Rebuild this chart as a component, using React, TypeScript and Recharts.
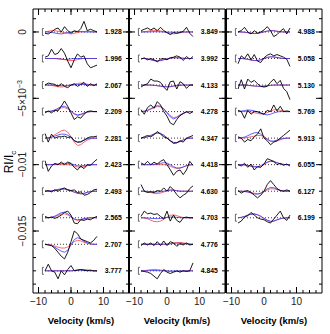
import React from "react";
import { LineChart, Line, XAxis, YAxis, ReferenceDot } from "recharts";

const FONT = "'Liberation Sans', Arial, Helvetica, sans-serif";

// velocity grid (km/s)
const velocity = [-8, -7, -6, -5, -4, -3, -2, -1, 0, 1, 2, 3, 4, 5, 6, 7, 8];

// profiles are stacked downwards by this much; values below are in units of 1e-4
const STEP = 0.002;
const UNIT = 1e-4;

const X_DOMAIN = [-11.7, 17.85];
const Y_DOMAIN = [-0.01967, 0.00173];
const X_MAJOR = [-10, 0, 10];
const X_TICKS = [-10, -8, -6, -4, -2, 0, 2, 4, 6, 8, 10, 12, 14, 16];
const Y_MAJOR = [0, -0.005, -0.01, -0.015];
const Y_TICKS = [
  0.001, 0, -0.001, -0.002, -0.003, -0.004, -0.005, -0.006, -0.007, -0.008, -0.009, -0.01,
  -0.011, -0.012, -0.013, -0.014, -0.015, -0.016, -0.017, -0.018, -0.019,
];
const Y_TEXT = ["0", "\u22125\u00d710", "\u22120.01", "\u22120.015"];
const Y_SUP = ["", "\u22123", "", ""];

const LABEL_V = 10.4;
const BRACKET_V = -8.8;

// ---- panel 1
const p1Labels = ["1.928", "1.996", "2.067", "2.209", "2.281", "2.423", "2.493", "2.565", "2.707", "3.777"];
const p1Obs = [
  [-1, -1.5, 0, 2, 3, 0, 4, 1, -1, 1, 0, 2.5, 8, 1, 2, 1, 0],
  [1, 2, 7, 3, 4, 7.5, 4, -2, -7, -1, 3.5, 1, 2, -4, -7, -6, -5],
  [0, 1.5, 1, 0.5, -1, 1, -1, -2, 0, 1, -1, 0.5, 2, -1, 1, -0.5, 1],
  [-1, 0.5, -1, 1, 0.5, 4, 8, 4, -1, -6, -4, -5, -2, 0, 0.5, 0, 0],
  [3.5, -3, 3, 0, 1, 1, 1.5, 0.5, 1, -2, -3, -3, -1.5, 0, 1, 1, 1.5],
  [3, -5, -1, 1, 0, 2, 0, 2, 1, -2, -4, -1, -3, 0, -0.5, 2, 4],
  [0, 0.5, -0.5, 1, 0, 1.5, 2.5, 1, 0.5, 1, -1, -0.5, -3, -2.5, -1, 1, 1.5],
  [1, 0, 0.5, -0.5, 0.5, 2, 4, 5, 2, -4, -4.5, -1.5, -2, -1, -1.5, 0, 1],
  [0, -0.5, -1, -3, -6, -9, -11, -6, 2, 10, 8, 4, 3, 2, 1, 3, 6],
  [0, 5, 0, -1, -6, 0, -3, 1, 4, 0, 0.5, 1, 0.5, 0, 0.5, 0, 0],
];
const p1Red = [
  [0, 0.5, 1, 1, 0.5, 0, -0.5, -1, -1.5, -1, -0.5, 0, 0.3, 0.5, 0.3, 0, 0],
  [0, 0, 0, 0, 0, -0.3, -0.8, -1.3, -1.6, -1.4, -0.8, -0.3, 0, 0, 0, 0, 0],
  [0, 0, -0.3, -0.8, -1.3, -1.5, -1.2, -0.6, 0, 0.6, 1.2, 1.5, 1.2, 0.6, 0.2, 0, 0],
  [0, 0, 0.3, 0.8, 1.8, 2.8, 3, 2, 0, -2, -3, -2.5, -1.5, -0.5, 0, 0, 0],
  [0, 0.3, 1, 2.5, 4, 5.5, 6, 4.5, 1, -3, -5.5, -5, -3, -1.5, -0.5, 0, 0],
  [0, 0, 0, 0, 0, 0, 0, 0, -0.3, -1, -1.8, -2, -1.5, -0.8, -0.2, 0, 0],
  [0, 0, 0.2, 0.6, 1.1, 1.5, 1.5, 1, 0.2, -0.6, -1.5, -2, -1.8, -1, -0.3, 0, 0],
  [0, 0, 0.3, 0.8, 1.8, 2.8, 3, 2.2, 0.5, -1.2, -2, -1.6, -1, -0.4, 0, 0, 0],
  [0, -0.2, -0.6, -1.3, -2.2, -2.8, -2.8, -2, 0, 2, 3, 2.5, 1.5, 0.7, 0.2, 0, 0],
  [0, 0, 0, 0, 0, 0, 0, 0, 0, 0.3, 0.8, 1, 1, 0.8, 0.4, 0, 0],
];
const p1Blue = [
  [0, 0, -0.3, -0.8, -1.2, -1.5, -1, -0.5, 0, 0.3, 0.5, 0.3, 0, 0, 0, 0, 0],
  [0, 0, 0, 0, -0.3, -0.6, -0.8, -0.6, -0.3, 0, 0, 0, 0, 0, 0, 0, 0],
  [0, 0, 0, -0.2, -0.4, -0.5, -0.4, -0.2, 0, 0.2, 0.4, 0.5, 0.4, 0.2, 0, 0, 0],
  [0, 0, 0.5, 1.2, 2.5, 3.8, 4, 2.8, 0.5, -1.5, -2.5, -2, -1, -0.3, 0, 0, 0],
  [0, 0.2, 0.6, 1.5, 2.3, 3, 3, 2.2, 0.5, -2, -3, -2.5, -1.5, -0.6, 0, 0, 0],
  [0, 0, 0, 0.2, 0.5, 0.8, 1, 1, 0.6, 0, -0.8, -1, -0.6, -0.2, 0, 0, 0],
  [0, 0, 0.3, 0.8, 1.4, 1.8, 1.8, 1.2, 0.3, -0.7, -1.6, -1.9, -1.5, -0.8, -0.2, 0, 0],
  [0, 0, 0.4, 1.2, 2.5, 3.8, 4.2, 3, 1, -0.8, -1.5, -1.2, -0.6, -0.2, 0, 0, 0],
  [0, -0.3, -1, -2.2, -3.8, -5.2, -6, -4.5, -0.5, 3.5, 5, 4, 2.3, 1, 0.3, 0, 0],
  [0, 0, 0, 0, 0, 0, 0, 0, 0, 0.2, 0.4, 0.5, 0.4, 0.2, 0, 0, 0],
];

// ---- panel 2
const p2Labels = ["3.849", "3.992", "4.133", "4.278", "4.347", "4.418", "4.630", "4.703", "4.776", "4.845"];
const p2Obs = [
  [1, 2, 3, 1.5, 3, 1, 3.5, 1, -0.5, -2, -0.5, -1, -0.5, 0.5, 3.5, -1, -3.5],
  [-0.5, 0.5, -1, 0, -1, -2.5, -0.5, 0, -1, 0.5, 1, 2, 1, -1.5, 1.5, -0.5, 1.5],
  [-1.5, 0, 1, 4.5, 3, 3, 2, -1.5, -4, 2.5, 3, -3, 2.5, 1, -2.5, 0, 0],
  [1.5, -2, 3, 5, 2.5, 7.5, 5, 0, -3.5, -8.5, -10, -6, -3, -1.5, 0, -1.5, 0],
  [0, 1, 2, 1, 2.5, 5, 3, 1, 0, -2, -4, -3.5, -2, -3, 0, 1, 2],
  [1.3, 0, 2.5, 0, 1.8, 0.5, 2.5, 3.8, 0, -3.8, -8, -5, -4, -7.5, -4, 2.5, -0.5],
  [5, 0, -1, -0.5, -1, 0.5, 0, 2.5, 0, 3.5, 1, -2.5, -5, -3, -1.5, 2, 4],
  [1, 5, 3, 3.5, 2.5, 3, 1, -1, 5, -2.5, 2, -2, -3.5, 0, 0.5, 0, 0],
  [-1, 1, -0.5, 1, -1, 2, -1, 2.5, -1, 2, 1, -1.5, 0.5, -0.5, 1, -0.5, 0],
  [0, -0.5, -1, -2, -4, -6, -2, 1, -1, -2, -1, 0, -1, 0, -0.5, 0, 6],
];
const p2Red = [
  [0, 0.2, 0.5, 1, 1.3, 1.2, 0.8, 0.2, -0.5, -1.2, -1.4, -1, -0.5, -0.2, 0, 0, 0],
  [0, 0, -0.3, -0.8, -1.3, -1.6, -1.4, -0.8, -0.2, 0.3, 0.6, 0.6, 0.4, 0.2, 0, 0, 0],
  [0, 0, 0, 0, -0.2, -0.5, -0.8, -1.1, -1.3, -1.2, -0.8, -0.4, -0.1, 0, 0, 0, 0],
  [0, 0.2, 0.8, 1.8, 3, 3.8, 3.5, 2, -0.5, -3, -4.5, -4, -2.5, -1.2, -0.4, 0, 0],
  [0, 0.3, 1, 2, 3, 3.8, 3.5, 2.2, 0.3, -1.8, -3.2, -3.5, -2.6, -1.4, -0.5, 0, 0],
  [0, 0, 0, 0, 0, 0, 0, 0, -0.3, -1.2, -2.2, -2.8, -2.6, -1.8, -0.8, -0.2, 0],
  [0, 0, -0.4, -1, -1.6, -1.8, -1.4, -0.6, 0.2, 0.8, 0.8, 0.4, 0, 0, 0, 0, 0],
  [0, -0.2, -0.8, -1.8, -2.8, -3, -2.5, -1.2, 0.5, 1.8, 2.2, 1.6, 0.8, 0.2, 0, 0, 0],
  [0, 0, 0, 0, 0, 0, 0, 0, 0.2, 0.6, 1.1, 1.4, 1.4, 1.1, 0.6, 0.2, 0],
  [0, 0.2, 0.5, 0.9, 1.1, 1, 0.6, 0.2, -0.2, -0.5, -0.6, -0.5, -0.3, -0.1, 0, 0, 0],
];
const p2Blue = [
  [0, 0, 0, 0.1, 0.2, 0.2, 0.1, 0, -0.1, -0.2, -0.2, -0.1, 0, 0, 0, 0, 0],
  [0, 0, -0.4, -1, -1.6, -1.9, -1.6, -1, -0.3, 0.3, 0.6, 0.6, 0.4, 0.2, 0, 0, 0],
  [0, 0, 0, 0, -0.2, -0.5, -0.9, -1.2, -1.4, -1.2, -0.8, -0.4, -0.1, 0, 0, 0, 0],
  [0, 0.3, 1, 2.2, 3.5, 4.5, 4, 2.2, -1, -4, -5.5, -4.5, -2.8, -1.3, -0.4, 0, 0],
  [0, 0.3, 1, 2, 3.2, 4, 3.6, 2.2, 0.2, -2, -3.3, -3.5, -2.5, -1.3, -0.4, 0, 0],
  [0, 0, 0, 0, 0.2, 0.5, 1, 1.5, 1.2, 0, -1.5, -2.5, -2.5, -1.7, -0.7, -0.2, 0],
  [0, 0, -0.1, -0.3, -0.5, -0.6, -0.4, 0, 0.5, 0.9, 0.8, 0.4, 0, 0, 0, 0, 0],
  [0, 0, -0.2, -0.4, -0.6, -0.7, -0.5, -0.2, 0.2, 0.5, 0.5, 0.3, 0.1, 0, 0, 0, 0],
  [0, 0, 0, 0, 0, 0, 0, 0, 0.1, 0.3, 0.6, 0.8, 0.8, 0.6, 0.3, 0.1, 0],
  [0, 0, 0.1, 0.2, 0.2, 0.2, 0.1, 0, 0, -0.1, -0.1, -0.1, 0, 0, 0, 0, 0],
];

// ---- panel 3
const p3Labels = ["4.988", "5.058", "5.130", "5.769", "5.913", "6.055", "6.127", "6.199"];
const p3Obs = [
  [0, 1, 3.5, 0, -1.5, 1, -1, 0, 1.5, 4, 1, -3.5, -2, 0.5, 2.5, -1.5, 3],
  [-4, 2, 0, 3.5, -1, 3, -2, -3, 0.5, 2.5, 3.5, 2, 3, 2, 1, -0.5, -6],
  [-3, 4, -3, 4.5, 2, 3.5, 1, -1, -1.5, -1, 2, 4.5, 1, 3.5, -2.5, -5, -11],
  [1, 0, -5, 1, -2, 0, 0, -1, -2, 1, 0, 5, 0.5, 4, 0, 0.5, 0],
  [1, 0, -3, -1, -2, 1, 3, 7, 0, -2, -5, -3, -2, 0, 2, 4, 6],
  [0, -1, 1, -2, 0.5, -4, -1.5, -2, 0.5, 4.5, 3.5, 2.5, 0, 1, -0.5, 0.5, -1],
  [0.5, -1.5, 0, 0.5, -1, -3, -5, -3, 0, 5, 8, 5, 2, 0.5, 0, 1, 0],
  [-4, -2.5, 0.5, 1.5, 4, 2, 0, -1, -1.5, -3, -4, -1, 2, 5, 0, -2, 2],
];
const p3Red = [
  [0, 0, -0.2, -0.5, -0.9, -1.1, -1, -0.6, 0, 0.6, 1, 1, 0.6, 0.2, 0, 0, 0],
  [0, 0, -0.2, -0.6, -1.2, -1.6, -1.6, -1, 0, 0.8, 1.2, 1.1, 0.7, 0.3, 0, 0, 0],
  [0, 0, 0, -0.2, -0.5, -0.8, -1, -1, -0.8, -0.5, -0.2, 0, 0, 0, 0, 0, 0],
  [0, 0, 0, 0, -0.3, -0.8, -1.4, -1.8, -1.6, -0.8, 0.4, 1.3, 1.5, 1, 0.4, 0, 0],
  [0, 0, 0.2, 0.5, 1, 1.5, 2, 2, 1.2, -0.5, -2.2, -2.8, -2.2, -1.2, -0.4, 0, 0],
  [0, 0, -0.2, -0.6, -1.2, -1.8, -2, -1.5, 0, 1.6, 2.6, 2.5, 1.6, 0.7, 0.2, 0, 0],
  [0, 0, -0.2, -0.5, -1, -1.5, -1.8, -1.4, -0.3, 1, 1.8, 1.8, 1.2, 0.5, 0.1, 0, 0],
  [0, 0.3, 1, 2, 2.8, 3, 2.4, 1.2, -0.5, -2, -3, -2.7, -1.7, -0.8, -0.2, 0, 0],
];
const p3Blue = [
  [0, 0, -0.2, -0.6, -1, -1.2, -1, -0.5, 0.1, 0.7, 1, 0.9, 0.5, 0.2, 0, 0, 0],
  [0, 0, -0.2, -0.6, -1.1, -1.5, -1.5, -0.9, 0, 0.8, 1.3, 1.2, 0.8, 0.3, 0, 0, 0],
  [0, 0, 0, -0.2, -0.4, -0.7, -0.9, -1, -0.9, -0.6, -0.3, 0, 0, 0, 0, 0, 0],
  [0, 0.3, 0.8, 1.2, 1, 0.5, -0.3, -1.2, -2, -2.5, -2, -1, -0.3, 0, 0, 0, 0],
  [0, 0.2, 0.8, 1.8, 3, 4, 4.2, 3, 1, -1, -2.2, -2.2, -1.5, -0.7, -0.2, 0, 0],
  [0, 0, -0.2, -0.5, -1, -1.4, -1.5, -0.8, 0.6, 2, 2.6, 2.2, 1.4, 0.6, 0.2, 0, 0],
  [0, 0, -0.2, -0.6, -1.3, -2, -2.3, -1.6, 0, 1.8, 2.8, 2.6, 1.6, 0.7, 0.2, 0, 0],
  [0, 0.3, 1, 2, 2.7, 2.8, 2.2, 1, -0.5, -1.8, -2.6, -2.4, -1.5, -0.7, -0.2, 0, 0],
];

function buildRows(obs: number[][], red: number[][], blue: number[][]) {
  return velocity.map((v, i) => {
    const row: Record<string, number> = { v };
    obs.forEach((_, k) => {
      const base = -STEP * k;
      row[`z${k}`] = base;
      row[`r${k}`] = base + red[k][i] * UNIT;
      row[`b${k}`] = base + blue[k][i] * UNIT;
      row[`o${k}`] = base + obs[k][i] * UNIT;
    });
    return row;
  });
}

const fmtX = (v: number) => (v < 0 ? `\u2212${-v}` : `${v}`);

// minor ticks come from the axis itself (tickSize -3, tickMargin 0);
// these custom ticks add the longer major marks and the labels
const MINOR = 3;
const MAJOR = 6;

const BottomTick = (props: any) => {
  const { x, y, payload } = props;
  if (!X_MAJOR.includes(payload.value)) return null;
  const axisY = y + MINOR;
  return (
    <g>
      <line x1={x} x2={x} y1={axisY} y2={axisY - MAJOR} stroke="#000" />
      <text x={x} y={axisY + 12} textAnchor="middle" fontSize={10} fontFamily={FONT} fill="#222">
        {fmtX(payload.value)}
      </text>
    </g>
  );
};

const TopTick = (props: any) => {
  const { x, y, payload } = props;
  if (!X_MAJOR.includes(payload.value)) return null;
  const axisY = y - MINOR;
  return <line x1={x} x2={x} y1={axisY} y2={axisY + MAJOR} stroke="#000" />;
};

const RightTick = (props: any) => {
  const { x, y, payload } = props;
  if (!Y_MAJOR.includes(payload.value)) return null;
  const axisX = x + MINOR;
  return <line x1={axisX} x2={axisX - MAJOR} y1={y} y2={y} stroke="#000" />;
};

const LeftTick = (props: any) => {
  const { x, y, payload, showLabel } = props;
  const i = Y_MAJOR.indexOf(payload.value);
  if (i < 0) return null;
  const axisX = x - MINOR;
  const tx = axisX - 7;
  return (
    <g>
      <line x1={axisX} x2={axisX + MAJOR} y1={y} y2={y} stroke="#000" />
      {showLabel ? (
        <text
          x={tx}
          y={y}
          transform={`rotate(-90 ${tx} ${y})`}
          textAnchor="middle"
          fontSize={10}
          fontFamily={FONT}
          fill="#222"
        >
          {Y_TEXT[i]}
          {Y_SUP[i] ? (
            <tspan dy={-4} fontSize={7}>
              {Y_SUP[i]}
            </tspan>
          ) : null}
        </text>
      ) : null}
    </g>
  );
};

const YLabel = () => (
  <text
    x={13}
    y={162}
    transform="rotate(-90 13 162)"
    textAnchor="middle"
    fontSize={12}
    fontFamily={FONT}
    fill="#000"
  >
    RI/I
    <tspan dy={3} fontSize={8}>
      c
    </tspan>
  </text>
);

type PanelProps = {
  left: number;
  width: number;
  leftAxisWidth: number;
  marginLeft: number;
  labels: string[];
  obs: number[][];
  red: number[][];
  blue: number[][];
  showY: boolean;
};

const axisCommon = {
  type: "number" as const,
  allowDataOverflow: true,
  interval: 0 as const,
  stroke: "#000",
  tickLine: { stroke: "#000" },
  tickSize: -MINOR,
  tickMargin: 0,
};

function Panel({ left, width, leftAxisWidth, marginLeft, labels, obs, red, blue, showY }: PanelProps) {
  const rows = buildRows(obs, red, blue);
  return (
    <div style={{ position: "absolute", left, top: 0 }}>
      <LineChart
        width={width}
        height={334}
        data={rows}
        margin={{ top: 8, right: 3, bottom: 0, left: marginLeft }}
      >
        <XAxis {...axisCommon} xAxisId="x" dataKey="v" domain={X_DOMAIN} ticks={X_TICKS} height={41}
          tick={<BottomTick />}
          label={{ value: "Velocity (km/s)", position: "insideBottom", offset: 10.5, fill: "#000", fontSize: 9.5, fontWeight: "bold", fontFamily: FONT }}
        />
        <XAxis {...axisCommon} xAxisId="xt" orientation="top" dataKey="v" domain={X_DOMAIN} ticks={X_TICKS} height={1}
          tick={<TopTick />} />
        <YAxis {...axisCommon} yAxisId="y" domain={Y_DOMAIN} ticks={Y_TICKS} width={leftAxisWidth}
          axisLine={{ stroke: "#000", strokeWidth: showY ? 1 : 2 }}
          tick={<LeftTick showLabel={showY} />}
          label={showY ? <YLabel /> : undefined} />
        <YAxis {...axisCommon} yAxisId="yr" orientation="right" domain={Y_DOMAIN} ticks={Y_TICKS} width={1}
          tick={<RightTick />} />
        {labels.map((_, k) => (
          <Line key={`z${k}`} xAxisId="x" yAxisId="y" dataKey={`z${k}`} stroke="#000" strokeWidth={0.8}
            strokeDasharray="1 2" dot={false} isAnimationActive={false} />
        ))}
        {labels.map((_, k) => (
          <Line key={`r${k}`} xAxisId="x" yAxisId="y" dataKey={`r${k}`} stroke="#ff4040" strokeWidth={0.8}
            dot={false} isAnimationActive={false} />
        ))}
        {labels.map((_, k) => (
          <Line key={`b${k}`} xAxisId="x" yAxisId="y" dataKey={`b${k}`} stroke="#3535ff" strokeWidth={0.8}
            dot={false} isAnimationActive={false} />
        ))}
        {labels.map((_, k) => (
          <Line key={`o${k}`} xAxisId="x" yAxisId="y" dataKey={`o${k}`} stroke="#000" strokeWidth={0.9}
            dot={false} isAnimationActive={false} />
        ))}
        {labels.map((lab, k) => (
          <ReferenceDot key={`l${k}`} xAxisId="x" yAxisId="y" x={LABEL_V} y={-STEP * k} r={0}
            shape={(p: any) => (
              <text x={p.cx} y={p.cy + 2.5} fontSize={6.8} fontWeight="bold" fontFamily={FONT} fill="#000">
                {lab}
              </text>
            )}
          />
        ))}
        {labels.map((_, k) => (
          <ReferenceDot key={`e${k}`} xAxisId="x" yAxisId="y" x={BRACKET_V} y={-STEP * k} r={0}
            shape={(p: any) => (
              <path
                d={`M${p.cx + 1.5},${p.cy - 3.5} H${p.cx} V${p.cy + 3.5} H${p.cx + 1.5}`}
                stroke="#444"
                strokeWidth={0.8}
                fill="none"
              />
            )}
          />
        ))}
      </LineChart>
    </div>
  );
}

export default function App() {
  return (
    <div style={{ position: "absolute", left: 0, top: 0, width: 330, height: 334, background: "#fff" }}>
      <Panel left={0} width={133} leftAxisWidth={33} marginLeft={0} labels={p1Labels} obs={p1Obs} red={p1Red} blue={p1Blue} showY />
      <Panel left={125} width={104} leftAxisWidth={1} marginLeft={3} labels={p2Labels} obs={p2Obs} red={p2Red} blue={p2Blue} showY={false} />
      <Panel left={222} width={104} leftAxisWidth={1} marginLeft={3} labels={p3Labels} obs={p3Obs} red={p3Red} blue={p3Blue} showY={false} />
    </div>
  );
}
